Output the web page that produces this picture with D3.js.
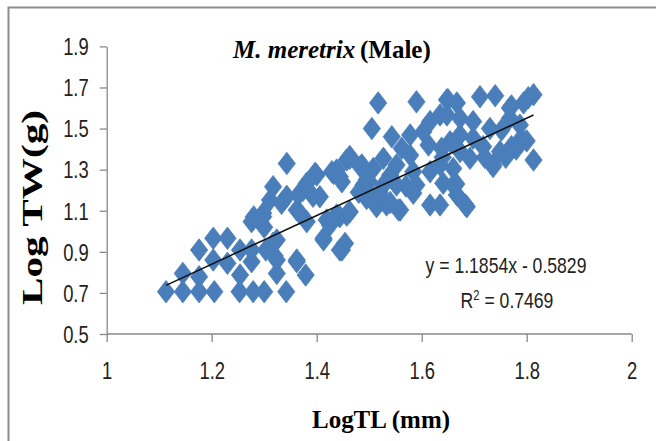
<!DOCTYPE html>
<html>
<head>
<meta charset="utf-8">
<script src="https://cdn.jsdelivr.net/npm/d3@7"></script>
<style>
  html, body { margin: 0; padding: 0; background: #fff; }
  svg { display: block; }
</style>
</head>
<body>
<svg id="chart" width="656" height="441"></svg>
<script>
// ---- data ----
const titleItalic = "M. meretrix";
const titleRest = "(Male)";
const xAxisTitle = "LogTL (mm)";
const yAxisTitle = "Log TW(g)";
const xTicks = [1, 1.2, 1.4, 1.6, 1.8, 2];
const xTickLabels = ["1", "1.2", "1.4", "1.6", "1.8", "2"];
const yTicks = [0.5, 0.7, 0.9, 1.1, 1.3, 1.5, 1.7, 1.9];
const yTickLabels = ["0.5", "0.7", "0.9", "1.1", "1.3", "1.5", "1.7", "1.9"];
const trendSlope = 1.1854;
const trendIntercept = -0.5829;
const equationText = "y = 1.1854x - 0.5829";
const r2Label = "R";
const r2Value = " = 0.7469";

const logTL = [
  1.113,1.145,1.176,1.205,1.253,1.279,1.300,1.342,
  1.145,1.176,1.176,1.203,1.230,1.203,1.230,1.254,1.254,1.276,1.276,1.303,1.276,1.298,1.317,1.343,1.324,1.324,1.324,1.362,1.379,1.362,1.381,1.400,1.374,1.393,1.413,1.444,1.432,1.457,1.432,1.457,1.343,1.333,1.300,1.280,
  1.311,1.298,1.365,1.381,1.397,1.406,1.368,1.419,1.444,1.460,1.413,1.448,1.429,1.444,1.463,1.483,1.495,1.495,1.514,1.317,1.320,1.362,
  1.517,1.590,1.648,1.505,1.543,1.578,1.616,1.635,1.613,1.638,1.562,1.463,1.486,1.438,1.448,1.508,1.500,1.527,1.552,1.584,1.616,1.635,1.489,1.527,1.552,1.590,1.508,1.533,1.559,1.616,1.635,1.438,1.463,1.425,1.570,1.540,1.578,1.603,
  1.813,1.803,1.740,1.711,1.667,1.650,1.771,1.794,1.768,1.787,1.698,1.673,1.648,1.730,1.752,1.790,1.771,1.749,1.717,1.698,1.673,1.654,1.673,1.692,1.736,1.813,1.660,1.660,1.667,1.686,1.640,
  1.556,1.683,1.736,1.641,1.666,1.584,1.540,1.768,1.480,1.520,1.760,1.780,1.800,1.720,1.454
];
const logTW = [
  0.706,0.706,0.706,0.706,0.706,0.706,0.706,0.706,
  0.795,0.779,0.909,0.966,0.966,0.860,0.844,0.909,0.787,0.852,0.909,0.909,1.047,1.088,1.217,1.330,0.958,0.860,0.795,0.852,0.787,1.104,1.047,1.274,1.200,1.170,0.966,0.909,1.063,1.079,1.282,1.347,1.170,1.136,1.020,1.070,
  1.152,1.071,1.177,1.234,1.282,1.168,1.088,1.055,1.071,1.088,0.958,0.909,1.290,1.266,1.364,1.315,1.250,1.160,1.120,0.942,0.880,0.860,
  1.625,1.630,1.640,1.500,1.460,1.469,1.534,1.566,1.420,1.404,1.404,1.355,1.323,1.298,1.241,1.306,1.241,1.355,1.323,1.290,1.290,1.323,1.225,1.225,1.225,1.225,1.160,1.128,1.104,1.128,1.128,1.079,1.095,1.030,1.220,1.274,1.370,1.485,
  1.665,1.650,1.660,1.655,1.625,1.640,1.610,1.625,1.550,1.517,1.534,1.550,1.566,1.500,1.493,1.453,1.412,1.388,1.412,1.453,1.469,1.436,1.388,1.355,1.323,1.347,1.306,1.225,1.177,1.120,1.360,
  1.104,1.128,1.315,1.234,1.230,1.185,1.140,1.600,1.190,1.190,1.360,1.400,1.440,1.360,0.941
];

// ---- layout ----
const svg = d3.select("#chart");
const plot = { left: 106.7, right: 631.7, top: 46.4, bottom: 334 };
const axisColor = "#898989";
const markColor = "#4A7EBB";
const sans = "'Liberation Sans', Arial, sans-serif";
const serif = "'Liberation Serif', 'Times New Roman', serif";
const narrow = 0.8;

const x = d3.scaleLinear().domain([1, 2]).range([plot.left, plot.right]);
const y = d3.scaleLinear().domain([0.5, 1.9]).range([plot.bottom, plot.top]);

// outer chart-area border (only left & top visible)
svg.append("rect")
  .attr("x", 8.5).attr("y", 7.5)
  .attr("width", 800).attr("height", 600)
  .attr("fill", "#fff")
  .attr("stroke", "#8c8c8c").attr("stroke-width", 2);

// axes
const xAxis = d3.axisBottom(x).tickValues(xTicks)
  .tickFormat((d, i) => xTickLabels[i]).tickSize(8).tickSizeOuter(8);
const yAxis = d3.axisLeft(y).tickValues(yTicks)
  .tickFormat((d, i) => yTickLabels[i]).tickSize(7).tickSizeOuter(0);

const gx = svg.append("g").attr("transform", `translate(0,${plot.bottom})`).call(xAxis);
const gy = svg.append("g").attr("transform", `translate(${plot.left},0)`).call(yAxis);

[gx, gy].forEach(g => {
  g.select(".domain").attr("stroke", axisColor).attr("stroke-width", 1.3);
  g.selectAll(".tick line").attr("stroke", axisColor).attr("stroke-width", 1.3);
  g.selectAll(".tick text")
    .attr("fill", "#222")
    .style("font-family", sans)
    .style("font-size", "23px");
});
gx.select(".domain").attr("d", `M${plot.left},0H${plot.right}`);
gx.selectAll(".tick text").attr("y", 0).attr("dy", 0)
  .attr("transform", `translate(0,45) scale(${narrow},1)`);
gy.selectAll(".tick text").attr("x", 0).attr("dy", "0.36em")
  .attr("transform", `translate(-18,0) scale(${narrow},1)`);

// points
const pts = logTL.map((v, i) => [v, logTW[i]]);
const diamond = d3.symbol().type(d3.symbolSquare).size(150);
svg.append("g").selectAll("path")
  .data(pts)
  .join("path")
  .attr("d", diamond)
  .attr("transform", d => `translate(${x(d[0])},${y(d[1])}) scale(1,1.3) rotate(45)`)
  .attr("fill", markColor)
  .attr("stroke", markColor)
  .attr("stroke-width", 0.6);

// trendline
const xmin = d3.min(logTL), xmax = d3.max(logTL);
svg.append("line")
  .attr("x1", x(xmin)).attr("y1", y(trendSlope * xmin + trendIntercept))
  .attr("x2", x(xmax)).attr("y2", y(trendSlope * xmax + trendIntercept))
  .attr("stroke", "#111").attr("stroke-width", 1.5);

// equation labels
const eqStyle = sel => sel
  .style("font-family", sans)
  .style("font-size", "22px")
  .attr("fill", "#222")
  .attr("text-anchor", "middle");
svg.append("g").attr("transform", `translate(506,273) scale(${narrow},1)`)
  .append("text").call(eqStyle).text(equationText);
const r2 = svg.append("g").attr("transform", `translate(507,308) scale(${narrow},1)`)
  .append("text").call(eqStyle);
r2.append("tspan").text(r2Label);
r2.append("tspan").attr("dy", -8).style("font-size", "14px").text("2");
r2.append("tspan").attr("dy", 8).text(r2Value);

// title
const titleStyle = sel => sel
  .style("font-family", serif)
  .style("font-size", "25px")
  .style("font-weight", "bold")
  .attr("fill", "#000");
svg.append("text").attr("x", 233).attr("y", 58).call(titleStyle)
  .style("font-style", "italic").text(titleItalic);
svg.append("text").attr("x", 360).attr("y", 58).call(titleStyle)
  .text(titleRest);

// x axis title
svg.append("text")
  .attr("x", 312).attr("y", 428)
  .attr("textLength", 138).attr("lengthAdjust", "spacingAndGlyphs")
  .style("font-family", serif).style("font-size", "26px").style("font-weight", "bold")
  .attr("fill", "#000")
  .text(xAxisTitle);

// y axis title
svg.append("text")
  .attr("transform", "translate(42,305) rotate(-90)")
  .attr("textLength", 195).attr("lengthAdjust", "spacingAndGlyphs")
  .style("font-family", serif).style("font-size", "29px").style("font-weight", "bold")
  .attr("fill", "#000")
  .text(yAxisTitle);
</script>
</body>
</html>
